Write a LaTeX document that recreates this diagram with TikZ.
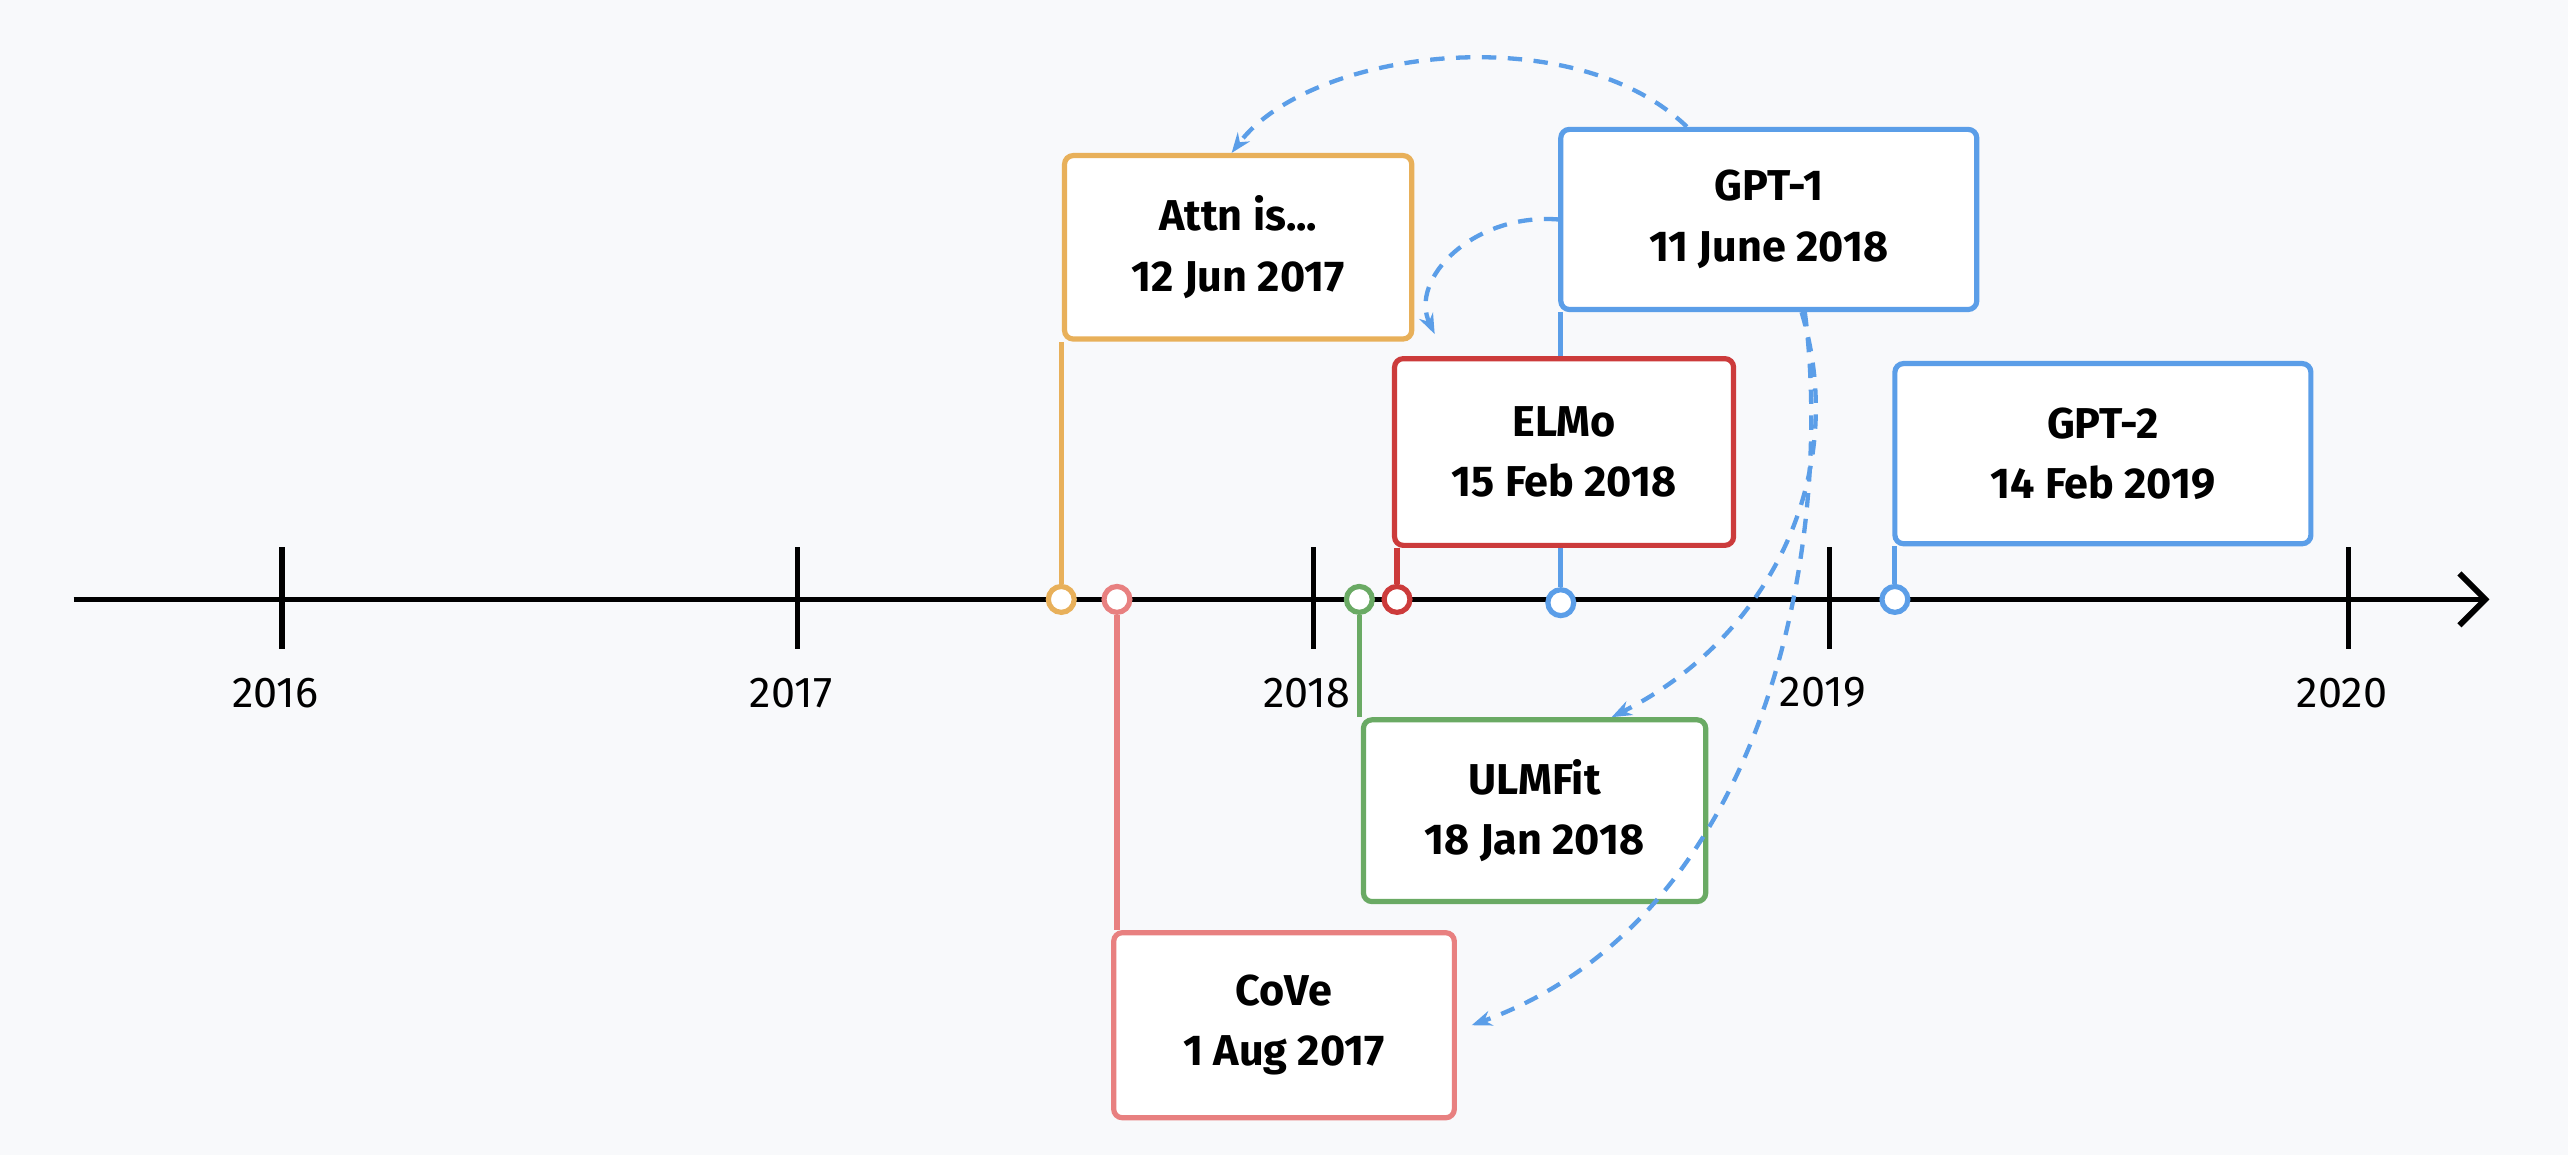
\documentclass[tikz,border=0pt]{standalone}
\usepackage{fontspec}
\setmainfont{Fira Sans}
\usetikzlibrary{positioning,arrows.meta,backgrounds}
\definecolor{bgcol}{HTML}{F8F9FB}
\definecolor{attncol}{HTML}{E8B05A}
\definecolor{covecol}{HTML}{E88080}
\definecolor{ulmcol}{HTML}{6AAA64}
\definecolor{elmocol}{HTML}{CC3B3B}
\definecolor{gptcol}{HTML}{5B9EE8}
\tikzset{
  event/.style={draw=#1,fill=white,line width=1.8pt,rounded corners=3pt,inner sep=0pt,
    align=center,font=\fontsize{15}{21}\selectfont\bfseries},
  dot/.style={draw=#1,fill=white,line width=1.8pt,circle,inner sep=0pt,minimum size=9pt},
  stem/.style={draw=#1,line width=1.8pt},
  cite/.style={gptcol,line width=1.5pt,dashed,dash pattern=on 5pt off 4pt,-{Stealth[open,length=7pt]}},
  year/.style={font=\fontsize{15}{18}\selectfont}
}
\begin{document}
\begin{tikzpicture}[x=0.02cm,y=-0.02cm]
  % boxes
  \node[event=attncol,minimum width=212*0.02cm,minimum height=112*0.02cm] (attn) at (756,151) {Attn is...\\12 Jun 2017};
  \node[event=covecol,minimum width=208*0.02cm,minimum height=113*0.02cm] (cove) at (784,626) {CoVe\\1 Aug 2017};
  \node[event=ulmcol,minimum width=209*0.02cm,minimum height=111*0.02cm] (ulm) at (937,495) {ULMFit\\18 Jan 2018};
  \node[event=elmocol,minimum width=207*0.02cm,minimum height=114*0.02cm] (elmo) at (955,276) {ELMo\\15 Feb 2018};
  \node[event=gptcol,minimum width=254*0.02cm,minimum height=110*0.02cm] (gpt1) at (1080,134) {GPT-1\\11 June 2018};
  \node[event=gptcol,minimum width=254*0.02cm,minimum height=110*0.02cm] (gpt2) at (1284,277) {GPT-2\\14 Feb 2019};
  % dots
  \node[dot=attncol] (dattn) at (648,366) {};
  \node[dot=covecol] (dcove) at (682,366) {};
  \node[dot=ulmcol] (dulm) at (830,366) {};
  \node[dot=elmocol] (delmo) at (853,366) {};
  \node[dot=gptcol] (dgpt1) at (953,368) {};
  \node[dot=gptcol] (dgpt2) at (1157,366) {};
  \begin{scope}[on background layer]
    \fill[bgcol] (0,0) rectangle (1568,705);
    % axis
    \draw[line width=2pt,-{Straight Barb[length=9pt]}] (45,366) -- (1520,366);
    \foreach \x/\yr in {172/2016,487/2017,802/2018,1117/2019,1434/2020}{
      \draw[line width=2pt] (\x,334) -- (\x,396);
      \node[year] at (\x-4,423) {\yr};
    }
    % stems
    \draw[stem=attncol] (dattn) -- (dattn |- attn.south);
    \draw[stem=covecol] (dcove) -- (dcove |- cove.north);
    \draw[stem=ulmcol] (dulm) -- (dulm |- ulm.north);
    \draw[stem=elmocol] (delmo) -- (delmo |- elmo.south);
    \draw[stem=gptcol] (dgpt1) -- (dgpt1 |- gpt1.south);
    \draw[stem=gptcol] (dgpt2) -- (dgpt2 |- gpt2.south);
  \end{scope}
  % citations
  \draw[cite] ([xshift=-50*0.02cm]gpt1.north) .. controls (960,10) and (800,30) .. ([xshift=-4*0.02cm]attn.north);
  \draw[cite] (gpt1.west) .. controls (900,130) and (860,170) .. (876,204);
  \draw[cite] ([xshift=20*0.02cm]gpt1.south) .. controls (1130,290) and (1080,390) .. ([xshift=47*0.02cm]ulm.north);
  \draw[cite] ([xshift=22*0.02cm]gpt1.south) .. controls (1120,330) and (1080,560) .. ([xshift=9*0.02cm]cove.east);
\end{tikzpicture}
\end{document}
